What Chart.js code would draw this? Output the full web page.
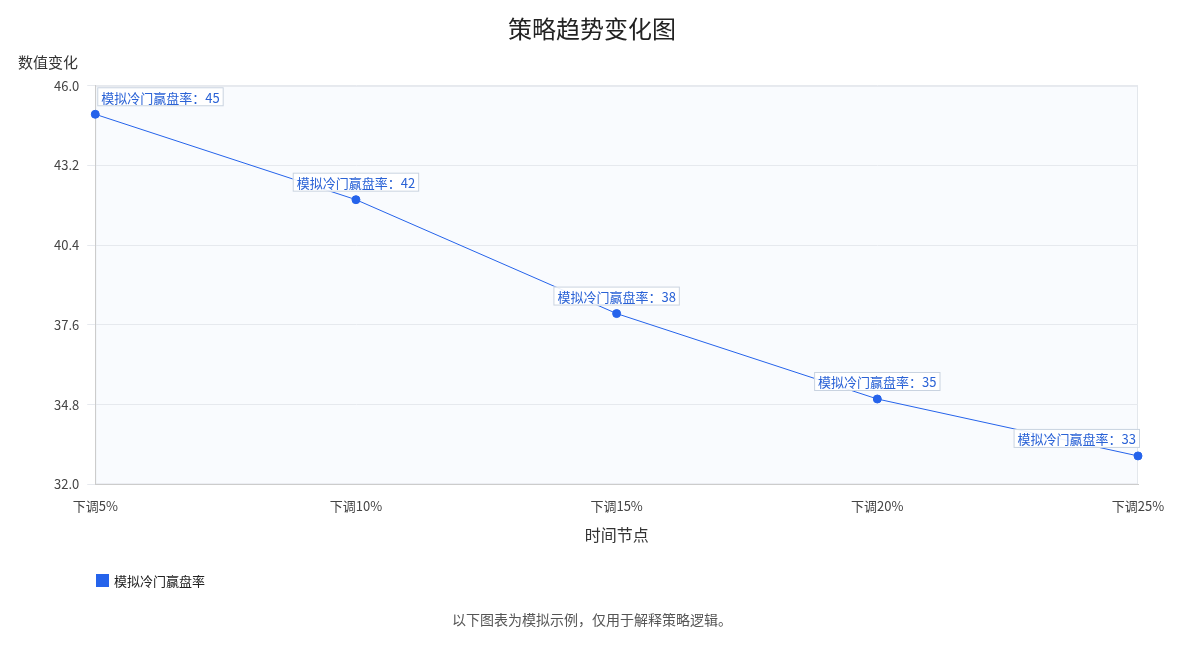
<!DOCTYPE html>
<html><head><meta charset="utf-8">
<script src="https://cdn.jsdelivr.net/npm/chart.js@4"></script>
<style>body{margin:0;background:#fff}#wrap{width:1200px;height:650px}</style>
</head><body><div id="wrap"><canvas id="c"></canvas></div>
<script>
var categories = ['下调5%', '下调10%', '下调15%', '下调20%', '下调25%'];
var winRate = [45, 42, 38, 35, 33];
var seriesName = '模拟冷门赢盘率';
var FONT = '"Noto Sans CJK SC", "Noto Sans", sans-serif';

var extras = {
  id: 'extras',
  beforeDraw: function(chart) {
    var a = chart.chartArea, ctx = chart.ctx;
    ctx.save();
    ctx.fillStyle = '#f9fbfe';
    ctx.fillRect(a.left, a.top, a.right - a.left, a.bottom - a.top);
    ctx.strokeStyle = '#e3e7ec';
    ctx.strokeRect(a.left + 0.5, a.top + 0.5, a.right - a.left - 1, a.bottom - a.top - 1);
    ctx.restore();
  },
  afterDraw: function(chart) {
    var a = chart.chartArea, ctx = chart.ctx;
    ctx.save();
    ctx.font = '15px ' + FONT;
    ctx.fillStyle = '#333';
    ctx.textAlign = 'left';
    ctx.textBaseline = 'middle';
    ctx.fillText('数值变化', 18, 62);
    // legend
    ctx.fillStyle = '#2563eb';
    ctx.fillRect(96, 574, 13, 13);
    ctx.font = '13px ' + FONT;
    ctx.fillStyle = '#222';
    ctx.fillText(seriesName, 114, 581);
    // point labels
    var pts = chart.getDatasetMeta(0).data;
    pts.forEach(function(p, i) {
      var txt = seriesName + '：' + winRate[i];
      var w = ctx.measureText(txt).width + 8, h = 19;
      var x = p.x - w / 2;
      if (x < a.left + 2) x = a.left + 2;
      if (x + w > a.right + 2) x = a.right + 2 - w;
      var y = p.y - 8 - h;
      ctx.fillStyle = 'rgba(255,255,255,0.9)';
      ctx.fillRect(x, y, w, h);
      ctx.strokeStyle = '#c9d3e0';
      ctx.lineWidth = 1;
      ctx.strokeRect(x + 0.5, y + 0.5, w - 1, h - 1);
      ctx.fillStyle = '#2a62d6';
      ctx.fillText(txt, x + 4, y + h / 2 + 1);
    });
    ctx.restore();
  }
};

new Chart(document.getElementById('c'), {
  type: 'line',
  data: {
    labels: categories,
    datasets: [{
      label: seriesName,
      data: winRate,
      borderColor: '#2563eb',
      backgroundColor: '#2563eb',
      borderWidth: 1,
      pointRadius: 4,
      pointHoverRadius: 4,
      tension: 0
    }]
  },
  options: {
    responsive: true,
    maintainAspectRatio: false,
    animation: false,
    layout: { padding: { left: 46, right: 62, top: 10, bottom: 10 } },
    plugins: {
      title: { display: true, text: '策略趋势变化图', color: '#222',
        font: { family: FONT, size: 24, weight: 'normal' }, padding: { top: 4, bottom: 43 } },
      subtitle: { display: true, position: 'bottom', text: '以下图表为模拟示例，仅用于解释策略逻辑。', color: '#555',
        font: { family: FONT, size: 14 }, padding: { top: 63, bottom: 12 } },
      legend: { display: false },
      tooltip: { enabled: false }
    },
    scales: {
      x: {
        offset: false,
        grid: { display: false },
        border: { color: '#ccc' },
        ticks: { color: '#444', font: { family: FONT, size: 13 }, padding: 6 },
        title: { display: true, text: '时间节点', color: '#333', font: { family: FONT, size: 16 }, padding: { top: 5 } }
      },
      y: {
        min: 32, max: 46,
        grid: { color: '#e6e9ee' },
        border: { color: '#ccc' },
        afterBuildTicks: function(s) {
          s.ticks = [32, 34.8, 37.6, 40.4, 43.2, 46].map(function(v) { return { value: v }; });
        },
        ticks: { color: '#444', font: { family: FONT, size: 13 }, padding: 8,
          callback: function(v) { return Number(v).toFixed(1); } }
      }
    }
  },
  plugins: [extras]
});
</script></body></html>
